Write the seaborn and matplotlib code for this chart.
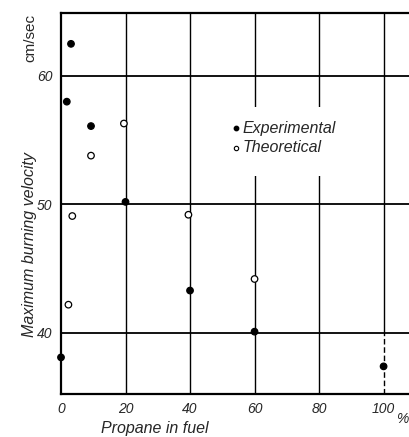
import numpy as np
import pandas as pd
import matplotlib
matplotlib.use("Agg")
import matplotlib.pyplot as plt
from matplotlib.patches import Rectangle
import seaborn as sns

# data
exp_x = [0, 1.8, 3.1, 9.3, 20, 40, 60, 100]
exp_y = [38.1, 58.0, 62.5, 56.1, 50.2, 43.3, 40.1, 37.4]
theo_x = [2.3, 3.5, 9.3, 19.5, 39.5, 60]
theo_y = [42.2, 49.1, 53.8, 56.3, 49.2, 44.2]
x_ticks = [0, 20, 40, 60, 80, 100]
y_ticks = [40, 50, 60]

df = pd.concat([
    pd.DataFrame({"x": exp_x, "y": exp_y, "kind": "Experimental"}),
    pd.DataFrame({"x": theo_x, "y": theo_y, "kind": "Theoretical"}),
])

sns.set_style("white")
plt.rcParams['font.family'] = ['Liberation Sans', 'DejaVu Sans']

fig = plt.figure(figsize=(4.10, 4.37), dpi=100)
ax = fig.add_axes([61 / 410, 43 / 437, 1.0, 381 / 437])

ax.set_xlim(0, 127.1)
ax.set_ylim(35.25, 64.9)

for v in x_ticks[1:-1]:
    ax.axvline(v, color="black", lw=1.0, zorder=1)
# the 100 % line is solid above 40 and dashed below it
ax.plot([100, 100], [40, 64.9], color="black", lw=1.0, zorder=1)
ax.plot([100, 100], [35.25, 40], color="black", lw=1.0, ls=(0, (4, 2)), zorder=1)
for v in y_ticks:
    ax.axhline(v, color="black", lw=1.3, zorder=1)

# blank patch behind the legend, the grid is broken there
ax.add_patch(Rectangle((0.412, 0.572), 0.293, 0.181, transform=ax.transAxes,
                       facecolor="white", edgecolor="none", zorder=2))

sns.scatterplot(data=df, x="x", y="y", hue="kind", ax=ax,
                palette={"Experimental": "black", "Theoretical": "white"},
                edgecolor="black", linewidth=0.9, s=22, zorder=3, legend=False,
                clip_on=False)

ax.set_xticks(x_ticks)
ax.set_yticks(y_ticks)
ax.set_xticklabels([str(t) for t in x_ticks], fontsize=10, style="italic")
ax.set_yticklabels([str(t) for t in y_ticks], fontsize=10, style="italic")
ax.tick_params(length=0, pad=6)
ax.set_xlabel("")
ax.set_ylabel("")
for s in ax.spines.values():
    s.set_color("black")
    s.set_linewidth(1.6)

# legend drawn as marker + text
ax.scatter([54.4], [55.95], s=10, color="black", zorder=4)
ax.text(56.2, 55.95, "Experimental", fontsize=11.5, style="italic", va="center", zorder=4)
ax.scatter([54.4], [54.4], s=10, facecolor="white", edgecolor="black", linewidth=0.8, zorder=4)
ax.text(56.2, 54.4, "Theoretical", fontsize=11.5, style="italic", va="center", zorder=4)

fig.text(155 / 410, 1 - 428 / 437, "Propane in fuel", fontsize=11.5, style="italic",
         ha="center", va="center")
fig.text(396 / 410, 1 - 419 / 437, "%", fontsize=10, style="italic", ha="left", va="center")
fig.text(30 / 410, 1 - 245 / 437, "Maximum burning velocity", fontsize=11.5, style="italic",
         rotation=90, ha="center", va="center")
fig.text(30 / 410, 1 - 38 / 437, "cm/sec", fontsize=11, rotation=90, ha="center", va="center")

fig.savefig("out.png", dpi=100)
